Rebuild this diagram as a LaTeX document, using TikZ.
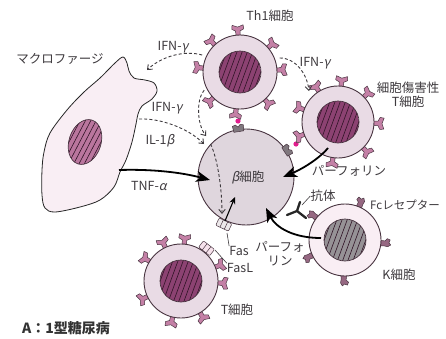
\documentclass[tikz,border=0pt]{standalone}
\usepackage{fontspec}
\setmainfont{Noto Sans CJK JP}
\newfontfamily\slgreek[FakeSlant=0.2]{Noto Sans CJK JP}
\usetikzlibrary{arrows.meta,calc}

\definecolor{ink}{RGB}{62,58,62}
\definecolor{cellline}{RGB}{72,52,64}
\definecolor{cellfill}{RGB}{233,219,229}
\definecolor{nucfill}{RGB}{140,66,114}
\definecolor{hatchcol}{RGB}{48,20,38}
\definecolor{spikefill}{RGB}{196,128,166}
\definecolor{kfill}{RGB}{249,238,244}
\definecolor{knuc}{RGB}{150,146,150}
\definecolor{fcfill}{RGB}{150,104,130}
\definecolor{betafill}{RGB}{223,214,221}
\definecolor{macfill}{RGB}{249,238,244}
\definecolor{macnuc}{RGB}{186,118,158}
\definecolor{dotcol}{RGB}{226,30,142}
\definecolor{rcpgray}{RGB}{128,120,126}
\definecolor{fasfill}{RGB}{236,232,234}
\definecolor{faslfill}{RGB}{246,226,236}

\newcommand\gk[1]{{\slgreek #1}}

% lymphocyte-type cell: name, centre, radius, nucleus radius, body fill, nucleus fill
\newcommand\immunecell[6]{%
  \node[cellbody, fill=#5, minimum size=#3*2pt] (#1) at #2 {};
  \begin{scope}
    \clip #2 circle (#4);
    \fill[#6] #2 circle (#4);
    \foreach \k in {-7,...,7}
      \draw[hatch] ($#2+(\k*5.2-11,30)$) -- ($#2+(\k*5.2+11,-30)$);
  \end{scope}
  \draw[nucline] #2 circle (#4);
}

% surface receptors: centre, radius, list of angles
\newcommand\spikes[3]{%
  \foreach \a in {#3}
    \draw[spike, shift={#1}, rotate=\a] (#2-3,-2.2) -- (#2+4,-2.2) -- (#2+6,-6)
      -- (#2+10,-5.5) -- (#2+8,0) -- (#2+10,5.5) -- (#2+6,6) -- (#2+4,2.2)
      -- (#2-3,2.2) -- cycle;
}

% Fc receptors of the K cell
\newcommand\fcreceptors[3]{%
  \foreach \a in {#3}
    \draw[fcr, shift={#1}, rotate=\a] (#2-3,-3) -- (#2+4,-2.5) -- (#2+6,-5)
      -- (#2+9,-4) -- (#2+8,-1) -- (#2+10,1) -- (#2+7,3) -- (#2+4,2.5)
      -- (#2-3,3) -- cycle;
}

% striped Fas / FasL block: centre, radius, angle, fill
\newcommand\fasblock[4]{%
  \begin{scope}[shift={#1}, rotate=#3]
    \draw[fasline, fill=#4, rounded corners=1pt] (#2+0.5,-7) rectangle (#2+8.5,7);
    \draw[fasline] (#2+0.5,-2.4) -- (#2+8.5,-2.4) (#2+0.5,2.4) -- (#2+8.5,2.4);
  \end{scope}
}

% small grey binding site on the beta cell: centre, radius, angle
\newcommand\bindsite[3]{%
  \draw[rcp, shift={#1}, rotate=#3] (#2-2,-5) -- (#2+4,-5.5) -- (#2+5,-2.5)
    -- (#2+2.5,0) -- (#2+5,2.5) -- (#2+4,5.5) -- (#2-2,5) -- cycle;
}

\begin{document}
\begin{tikzpicture}[x=1pt,y=-1pt,
  cellbody/.style={circle, draw=cellline, line width=0.9pt, inner sep=0pt},
  nucline/.style={draw=cellline, line width=0.7pt},
  hatch/.style={draw=hatchcol, line width=0.6pt},
  spike/.style={draw=cellline, fill=spikefill, line width=0.5pt, line join=round},
  fcr/.style={draw=cellline, fill=fcfill, line width=0.5pt, line join=round},
  rcp/.style={draw=cellline, fill=rcpgray, line width=0.5pt, line join=round},
  fasline/.style={draw=cellline, line width=0.5pt},
  dasharrow/.style={draw=ink, line width=0.9pt, dash pattern=on 3pt off 2.2pt,
    -{Straight Barb[length=4pt,width=6.5pt]}},
  killarrow/.style={draw=black, line width=1.8pt,
    -{Stealth[length=14pt,width=11pt,inset=4pt]}},
  leader/.style={draw=ink, line width=0.6pt},
  lbl/.style={text=ink, font=\fontsize{12.5}{14}\selectfont, inner sep=0pt},
]
\useasboundingbox (0,0) rectangle (446,338);
\fill[white] (0,0) rectangle (446,338);

% ---------- macrophage ----------
\draw[fill=macfill, draw=black!85, line width=0.8pt]
  plot[smooth cycle, tension=0.55] coordinates {
    (67,110) (84,92) (100,78) (115,63) (123,57) (127,63) (129,71) (134,78)
    (145,80) (154,83) (157,91) (152,99) (142,106) (138,114) (136,124)
    (132,142) (126,160) (120,172) (114,187) (100,200) (80,207) (55,212)
    (45,208) (42,195) (42,170) (44,152) (50,133)};
\begin{scope}[shift={(85,142)}, rotate=72]
  \begin{scope}
    \clip (0,0) ellipse [x radius=23, y radius=16];
    \fill[macnuc] (0,0) ellipse [x radius=23, y radius=16];
    \foreach \k in {-6,...,6}
      \draw[hatch] (-30,\k*4.8-5) -- (30,\k*4.8+5);
  \end{scope}
  \draw[nucline] (0,0) ellipse [x radius=23, y radius=16];
\end{scope}
\coordinate (macTip) at (147,70);
\coordinate (macIL) at (139,119);
\coordinate (macTNF) at (119,170);

% ---------- beta cell ----------
\node[cellbody, fill=betafill, minimum size=96pt] (beta) at (246,177) {};
\bindsite{(246,177)}{48}{99}
\bindsite{(246,177)}{48}{33}
\fasblock{(246,177)}{48}{-115}{fasfill}
\fill[dotcol] (238,121) circle (2.6);
\fill[dotcol] (296,144) circle (2.6);

% ---------- lymphocytes ----------
\spikes{(240,72)}{37}{93,41,3,-48,-96,-136,174,133}
\immunecell{th1}{(240,72)}{37}{21}{cellfill}{nucfill}

\spikes{(338,122)}{36}{122,85,44,-2,-46,-98,-160,160}
\immunecell{ctl}{(338,122)}{36}{21}{cellfill}{nucfill}

\spikes{(181,281)}{37}{115,85,148,-155,-103,-59,-3,22}
\fasblock{(181,281)}{37}{52}{faslfill}
\immunecell{tcell}{(181,281)}{37}{21}{cellfill}{nucfill}

\fcreceptors{(345,240)}{36}{67,-5,-92,-155,142}
\immunecell{kcell}{(345,240)}{36}{21}{kfill}{knuc}

% ---------- antibody ----------
\coordinate (abC) at (297,211);
\coordinate (abA) at (300,202);
\coordinate (abB) at (287,215);
\coordinate (abS) at (306,218);
\draw[line width=2.3pt, line cap=round, draw=black!85] (abA) -- (abC) -- (abB) (abC) -- (abS);

% ---------- connector end points ----------
\coordinate (ifnTip) at (206,136);
\coordinate (ilTip) at (204,144);
\coordinate (ctlTip) at (309,91);
\coordinate (fasTop) at (222,214);
\coordinate (fasBase) at (225,221);
\coordinate (fasUp) at (235,197);
\coordinate (tnfTip) at (210,180);
\coordinate (ctlStart) at (328,148);
\coordinate (perfTipA) at (283,177);
\coordinate (kStart) at (321,238);
\coordinate (perfTipB) at (266,208);
\coordinate (fasPt) at (227,233);
\coordinate (faslPt) at (215,250);
\coordinate (abPt) at (302,205);

% ---------- dashed cytokine arrows ----------
\draw[dasharrow, shorten <=4pt] (th1.155) .. controls (185,50) and (162,56) .. (macTip);
\draw[dasharrow, shorten <=3pt] (th1.205) .. controls (196,100) and (197,124) .. (ifnTip);
\draw[dasharrow] (macIL) .. controls (160,118) and (188,128) .. (ilTip);
\draw[dasharrow, shorten <=5pt] (th1.22) .. controls (296,58) and (307,74) .. (ctlTip);
\draw[dasharrow] (beta.137) .. controls (218,160) and (222,190) .. (fasTop);
\draw[draw=black, line width=1.1pt, -{Stealth[length=7pt,width=6pt]}] (fasBase) -- (fasUp);

% ---------- cytotoxic arrows ----------
\draw[killarrow] (macTNF) .. controls (150,169) and (180,172) .. (tnfTip);
\draw[killarrow] (ctlStart) .. controls (318,160) and (300,170) .. (perfTipA);
\draw[killarrow] (kStart) .. controls (294,238) and (276,228) .. (perfTipB);

% ---------- labels ----------
\node[lbl] (macLbl) at (60,59) {マクロファージ};
\node[lbl] (th1Lbl) at (270,16) {Th1細胞};
\node[lbl, align=center] (ctlLbl) at (408,95) {細胞傷害性\\T細胞};
\node[lbl] (ifnA) at (173,47) {IFN-\gk{γ}};
\node[lbl] (ifnB) at (167,108) {IFN-\gk{γ}};
\node[lbl] (ifnC) at (315,63) {IFN-\gk{γ}};
\node[lbl] (ilLbl) at (160,141) {IL-1\gk{β}};
\node[lbl] (tnfLbl) at (149,186) {TNF-\gk{α}};
\node[lbl] (betaLbl) at (248,177) {\gk{β}細胞};
\node[lbl] (perfA) at (349,171) {パーフォリン};
\node[lbl] (abLbl) at (323,196) {抗体};
\node[lbl, font=\fontsize{11.5}{13}\selectfont] (fcLbl) at (405,205) {Fcレセプター};
\node[lbl, align=center] (perfB) at (280,254) {パーフォ\\リン};
\node[lbl] (kLbl) at (399,275) {K細胞};
\node[lbl] (fasLbl) at (239,251) {Fas};
\node[lbl] (faslLbl) at (240,268) {FasL};
\node[lbl] (tLbl) at (237,310) {T細胞};
\node[text=black!80, font=\fontsize{14}{16}\selectfont\bfseries, inner sep=0pt] (caption) at (66,328) {A：1型糖尿病};

% ---------- leader lines ----------
\draw[leader] (fasPt) -- (fasLbl.north west);
\draw[leader] (faslPt) -- (faslLbl.north west);
\draw[leader] (abPt) -- (abLbl.west);
\end{tikzpicture}
\end{document}
